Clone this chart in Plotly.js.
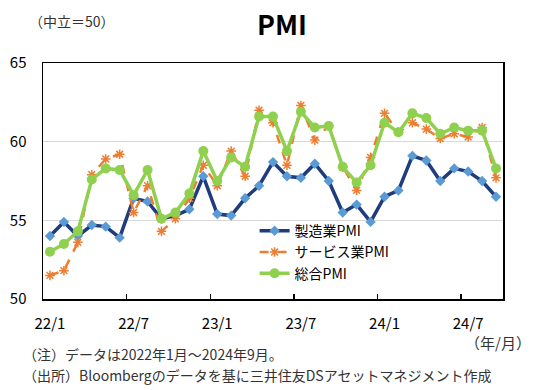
<!DOCTYPE html>
<html><head><meta charset="utf-8">
<script src="https://cdn.plot.ly/plotly-3.0.1.min.js"></script>
<style>body{margin:0;background:#fff}#chart{width:550px;height:390px}</style>
</head><body><div id="chart"></div>
<script>
const months = ["22/1","22/2","22/3","22/4","22/5","22/6","22/7","22/8","22/9","22/10","22/11","22/12",
  "23/1","23/2","23/3","23/4","23/5","23/6","23/7","23/8","23/9","23/10","23/11","23/12",
  "24/1","24/2","24/3","24/4","24/5","24/6","24/7","24/8","24/9"];
const manufacturing = [54.0,54.9,54.0,54.7,54.6,53.9,56.4,56.2,55.1,55.3,55.7,57.8,
  55.4,55.3,56.4,57.2,58.7,57.8,57.7,58.6,57.5,55.5,56.0,54.9,
  56.5,56.9,59.1,58.8,57.5,58.3,58.1,57.5,56.5];
const services = [51.5,51.8,53.6,57.9,58.9,59.2,55.5,57.2,54.3,55.1,56.4,58.5,
  57.2,59.4,57.8,62.0,61.2,58.5,62.3,60.1,61.0,58.4,56.9,59.0,
  61.8,60.6,61.2,60.8,60.2,60.5,60.3,60.9,57.7];
const composite = [53.0,53.5,54.3,57.6,58.3,58.2,56.6,58.2,55.1,55.5,56.7,59.4,
  57.5,59.0,58.4,61.6,61.6,59.4,61.9,60.9,61.0,58.4,57.4,58.5,
  61.2,60.6,61.8,61.5,60.5,60.9,60.7,60.7,58.3];
const seriesNames = ["製造業PMI","サービス業PMI","総合PMI"];

const FONT = '"Noto Sans CJK JP", "Noto Sans", sans-serif';

const traces = [
  {x: months, y: manufacturing, name: seriesNames[0], type: 'scatter', mode: 'lines+markers',
   line: {color: '#1F3C7C', width: 3.5},
   marker: {symbol: 'diamond', size: 8, color: '#5B9BD5'}},
  {x: months, y: services, name: seriesNames[1], type: 'scatter', mode: 'lines+markers',
   line: {color: '#ED7D31', width: 2.5, dash: 'dash'},
   marker: {symbol: 'asterisk-open', size: 8, color: '#ED7D31', line: {color: '#ED7D31', width: 1.5}}},
  {x: months, y: composite, name: seriesNames[2], type: 'scatter', mode: 'lines+markers',
   line: {color: '#8FD14F', width: 3.5},
   marker: {symbol: 'circle', size: 10, color: '#8FD14F'}}
];

const layout = {
  width: 550, height: 390,
  margin: {l: 43, r: 47, t: 63, b: 91},
  paper_bgcolor: '#fff', plot_bgcolor: '#fff',
  font: {family: FONT, color: '#000', size: 14},
  showlegend: true,
  legend: {x: 0.46, y: 0.355, xanchor: 'left', yanchor: 'top', bgcolor: 'rgba(0,0,0,0)',
    font: {size: 14, family: FONT}, tracegroupgap: 0},
  xaxis: {type: 'category', tickmode: 'linear', tick0: 0, dtick: 6, tickson: 'boundaries',
    ticks: 'inside', ticklen: 5, tickwidth: 1.5, tickcolor: '#000', tickangle: 0,
    showgrid: false, showline: true, linecolor: '#000', linewidth: 1.5, mirror: true,
    range: [-0.5, 32.5], ticklabelstandoff: 10, tickfont: {size: 15, family: FONT}},
  yaxis: {range: [50, 65], dtick: 5, tick0: 50, showgrid: true, gridcolor: '#D9D9D9', gridwidth: 1,
    showline: true, linecolor: '#000', linewidth: 1.5, mirror: true, zeroline: false,
    ticks: '', ticklabelstandoff: 12, tickfont: {size: 15, family: FONT}},
  annotations: [
    {text: '<b>PMI</b>', xref: 'paper', yref: 'paper', x: 0.52, y: 1, yshift: 40, showarrow: false,
     xanchor: 'center', yanchor: 'middle', font: {size: 27, family: FONT}},
    {text: '（中立＝50）', xref: 'paper', yref: 'paper', x: 0, xshift: -16, y: 1, yshift: 42, showarrow: false,
     xanchor: 'left', yanchor: 'middle', font: {size: 14, family: FONT, color: '#333'}},
    {text: '（年/月）', xref: 'paper', yref: 'paper', x: 1, xshift: 30, y: 0, yshift: -43, showarrow: false,
     xanchor: 'right', yanchor: 'middle', font: {size: 15, family: FONT, color: '#333'}},
    {text: '（注）データは2022年1月～2024年9月。', xref: 'paper', yref: 'paper', x: 0, xshift: -22, y: 0, yshift: -55,
     showarrow: false, xanchor: 'left', yanchor: 'middle', font: {size: 14, family: FONT, color: '#333'}},
    {text: '（出所）Bloombergのデータを基に三井住友DSアセットマネジメント作成', xref: 'paper', yref: 'paper', x: 0, xshift: -22, y: 0, yshift: -76,
     showarrow: false, xanchor: 'left', yanchor: 'middle', font: {size: 14, family: FONT, color: '#333'}}
  ]
};

Plotly.newPlot('chart', traces, layout, {displayModeBar: false, staticPlot: true});
</script></body></html>
